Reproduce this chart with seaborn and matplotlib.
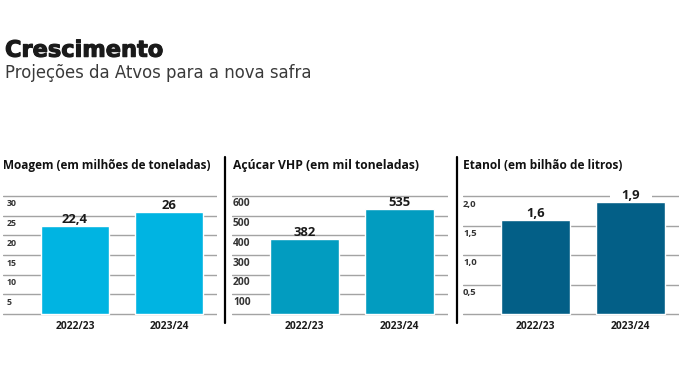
import matplotlib
matplotlib.use("Agg")
import matplotlib.pyplot as plt
import matplotlib.patheffects as pe
import seaborn as sns
import pandas as pd
from matplotlib.lines import Line2D

# ---------------- data ----------------
categorias = ["2022/23", "2023/24"]

moagem = [22.4, 26]
acucar = [382, 535]
etanol = [1.6, 1.9]

rotulos_moagem = ["22,4", "26"]
rotulos_acucar = ["382", "535"]
rotulos_etanol = ["1,6", "1,9"]

ticks_moagem = [0, 5, 10, 15, 20, 25, 30]
ticks_acucar = [0, 100, 200, 300, 400, 500, 600]
ticks_etanol = [0, 0.5, 1.0, 1.5, 2.0]

tlabels_moagem = ["5", "10", "15", "20", "25", "30"]
tlabels_acucar = ["100", "200", "300", "400", "500", "600"]
tlabels_etanol = ["0,5", "1,0", "1,5", "2,0"]

titulos = ["Moagem (em milhões de toneladas)",
           "Açúcar VHP (em mil toneladas)",
           "Etanol (em bilhão de litros)"]

titulo = "Crescimento"
subtitulo = "Projeções da Atvos para a nova safra"

cores = ["#00B4E2", "#029CC0", "#035F87"]

# ---------------- style ----------------
sns.set_style("white")
plt.rcParams['font.family'] = ['Open Sans', 'DejaVu Sans']

W, H = 680, 382
fig = plt.figure(figsize=(W / 100, H / 100), dpi=100)
fig.patch.set_facecolor("white")


def fx(px):
    return px / W


def fy(py):
    return 1 - py / H


# pixel geometry of panels: (left, right, title_x, ticklabel_dx, title_size, tick_size)
geom = [
    (3, 217, 3, 4, 8.5, 6.3),
    (232, 448, 233, 1, 8.7, 7.4),
    (463, 679, 463, 0, 8.55, 6.8),
]
# labels that sit on a gridline get a white knockout box
knockout = [[False, False], [False, False], [False, True]]

valores = [moagem, acucar, etanol]
rotulos = [rotulos_moagem, rotulos_acucar, rotulos_etanol]
ticks = [ticks_moagem, ticks_acucar, ticks_etanol]
tlabels = [tlabels_moagem, tlabels_acucar, tlabels_etanol]

base_px, top_px = 314, 196
ax_top_px, ax_bot_px = 190, 318

for k in range(3):
    left, right, tx, tdx, tsize, ksize = geom[k]
    ax = fig.add_axes([fx(left), fy(ax_bot_px), fx(right - left),
                       (ax_bot_px - ax_top_px) / H])
    ymax = ticks[k][-1]
    dpp = ymax / (base_px - top_px)
    df = pd.DataFrame({"safra": categorias, "valor": valores[k]})
    sns.barplot(data=df, x="safra", y="valor", color=cores[k], saturation=1,
                width=0.72, ax=ax, zorder=2)
    ax.set_xlim(-0.765, 1.51)
    ax.set_ylim(-(ax_bot_px - base_px) * dpp, ymax + (top_px - ax_top_px) * dpp)
    ax.set_yticks(ticks[k])
    ax.grid(axis="y", color="#a3a3a3", lw=1.0)
    ax.grid(axis="x", visible=False)
    ax.set_axisbelow(True)
    for s in ax.spines.values():
        s.set_visible(False)
    ax.tick_params(left=False, bottom=False, labelleft=False, labelbottom=False)
    ax.set_xlabel("")
    ax.set_ylabel("")
    ax.patch.set_alpha(0)

    for t, lbl in zip(ticks[k][1:], tlabels[k]):
        ax.annotate(lbl, xy=(0, t), xycoords=("axes fraction", "data"),
                    xytext=(tdx, -8), textcoords="offset pixels",
                    ha="left", va="center", fontsize=ksize, fontweight="bold",
                    color="#333333")

    for i, (v, lbl) in enumerate(zip(valores[k], rotulos[k])):
        kw = {}
        if knockout[k][i]:
            kw["bbox"] = dict(boxstyle="square,pad=0.9", fc="white", ec="none")
        ax.annotate(lbl, xy=(i, v), xytext=(0, 2.5), textcoords="offset pixels",
                    ha="center", va="baseline", fontsize=9.4, fontweight="bold",
                    color="#1a1a1a", zorder=1.5, **kw)

    for i, c in enumerate(categorias):
        ax.annotate(c, xy=(i, 0), xytext=(0, -15.3), textcoords="offset pixels",
                    ha="center", va="baseline", fontsize=7.4, fontweight="bold",
                    color="#1a1a1a", annotation_clip=False)

    fig.text(fx(tx), fy(169.3), titulos[k], ha="left", va="baseline",
             fontsize=tsize, fontweight="bold", color="#111111")

# dividers
for xd in (225, 457):
    fig.add_artist(Line2D([fx(xd), fx(xd)], [fy(157), fy(323)],
                          color="black", lw=1.6))

fig.text(fx(5), fy(56.7), titulo, ha="left", va="baseline", fontsize=16.2,
         fontweight="bold", family=["DejaVu Sans"], color="#1a1a1a",
         path_effects=[pe.withStroke(linewidth=0.8, foreground="#1a1a1a")])
fig.text(fx(5), fy(77.7), subtitulo, ha="left", va="baseline", fontsize=11.9,
         family=["DejaVu Sans"], color="#3a3a3a")

fig.savefig("out.png", dpi=100)
